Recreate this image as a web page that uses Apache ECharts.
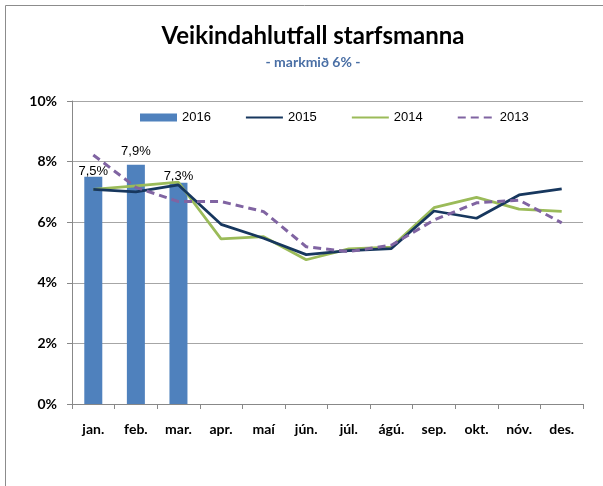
<!DOCTYPE html>
<html lang="is">
<head>
    <meta charset="UTF-8">
    <title>Veikindahlutfall starfsmanna</title>
    <script src="https://cdn.jsdelivr.net/npm/echarts@6.0.0/dist/echarts.min.js"></script>
    <style>
        html, body { margin: 0; padding: 0; background: #fff; }
    </style>
</head>
<body>
    <div id="main" style="width: 603px; height: 486px;"></div>
    <script>
        // Data
        var months = ['jan.', 'feb.', 'mar.', 'apr.', 'maí', 'jún.', 'júl.', 'ágú.', 'sep.', 'okt.', 'nóv.', 'des.'];
        var y2016 = [7.5, 7.9, 7.3];
        var y2015 = [7.08, 7.0, 7.23, 5.93, 5.47, 4.93, 5.06, 5.13, 6.37, 6.13, 6.9, 7.1];
        var y2014 = [7.08, 7.2, 7.32, 5.45, 5.52, 4.76, 5.12, 5.18, 6.48, 6.82, 6.43, 6.36];
        var y2013 = [8.22, 7.15, 6.68, 6.68, 6.35, 5.19, 5.03, 5.24, 6.07, 6.64, 6.73, 5.98];
        var yTicks = [0, 2, 4, 6, 8, 10];

        // label offsets above each 2016 bar (style only)
        var barLabelGap = [-1, 7, 0];

        var myChart = echarts.init(document.getElementById('main'));

        var barData = y2016.map(function (v, i) {
            return { value: v, label: { distance: barLabelGap[i] } };
        });

        // hide the round marker that line series put in the legend
        var noMarker = { opacity: 0 };

        var option = {
            animation: false,
            textStyle: { fontFamily: 'Lato' },
            title: [{
                text: 'Veikindahlutfall starfsmanna',
                left: 308,
                top: 19,
                textAlign: 'center',
                textStyle: { fontFamily: 'Lato', fontSize: 24, fontWeight: 'bold', color: '#000' }
            }, {
                text: '- markmið 6% -',
                left: 308,
                top: 50,
                textAlign: 'center',
                textStyle: { fontFamily: 'Lato', fontSize: 14, fontWeight: 'bold', color: '#4a6fa5' }
            }],
            legend: {
                left: 135,
                top: 106,
                itemWidth: 37,
                itemHeight: 8,
                itemGap: 34,
                textStyle: { fontFamily: 'Liberation Sans', fontSize: 13, color: '#000' },
                data: [
                    { name: '2016', icon: 'rect' },
                    { name: '2015', itemStyle: noMarker },
                    { name: '2014', itemStyle: noMarker },
                    { name: '2013', itemStyle: noMarker }
                ]
            },
            grid: {
                left: 72,
                right: 20,
                top: 101,
                bottom: 82
            },
            xAxis: {
                type: 'category',
                data: months,
                axisLine: { lineStyle: { color: '#888', width: 1 } },
                axisTick: { show: true, length: 5, lineStyle: { color: '#888' } },
                axisLabel: {
                    margin: 18,
                    fontFamily: 'Lato',
                    fontSize: 14,
                    fontWeight: 'bold',
                    color: '#000'
                }
            },
            yAxis: {
                type: 'value',
                min: yTicks[0],
                max: yTicks[yTicks.length - 1],
                interval: 2,
                axisLine: { show: true, lineStyle: { color: '#888', width: 1 } },
                axisTick: { show: true, length: 5, lineStyle: { color: '#888' } },
                splitLine: { lineStyle: { color: '#a6a6a6', width: 1 } },
                axisLabel: {
                    margin: 15,
                    fontFamily: 'Lato',
                    fontSize: 14,
                    fontWeight: 'bold',
                    color: '#000',
                    formatter: function (v) { return v + '%'; }
                }
            },
            series: [{
                name: '2016',
                type: 'bar',
                barWidth: 18,
                itemStyle: { color: '#4f81bd' },
                label: {
                    show: true,
                    position: 'top',
                    fontFamily: 'Liberation Sans',
                    fontSize: 13,
                    color: '#000',
                    formatter: function (p) { return p.value.toFixed(1).replace('.', ',') + '%'; }
                },
                z: 1,
                data: barData
            }, {
                name: '2015',
                type: 'line',
                symbol: 'none',
                lineStyle: { color: '#17375e', width: 2.75 },
                itemStyle: { color: '#17375e' },
                z: 4,
                data: y2015
            }, {
                name: '2014',
                type: 'line',
                symbol: 'none',
                lineStyle: { color: '#9bbb59', width: 2.75 },
                itemStyle: { color: '#9bbb59' },
                z: 3,
                data: y2014
            }, {
                name: '2013',
                type: 'line',
                symbol: 'none',
                lineStyle: { color: '#8064a2', width: 3, type: [8, 5] },
                itemStyle: { color: '#8064a2' },
                z: 5,
                data: y2013
            }],
            graphic: {
                elements: [{
                    type: 'rect',
                    shape: { x: 5.5, y: 5.5, width: 610, height: 500 },
                    style: { fill: 'none', stroke: '#8c8c8c', lineWidth: 1 },
                    silent: true,
                    z: -1
                }]
            }
        };
        myChart.setOption(option);
    </script>
</body>
</html>
